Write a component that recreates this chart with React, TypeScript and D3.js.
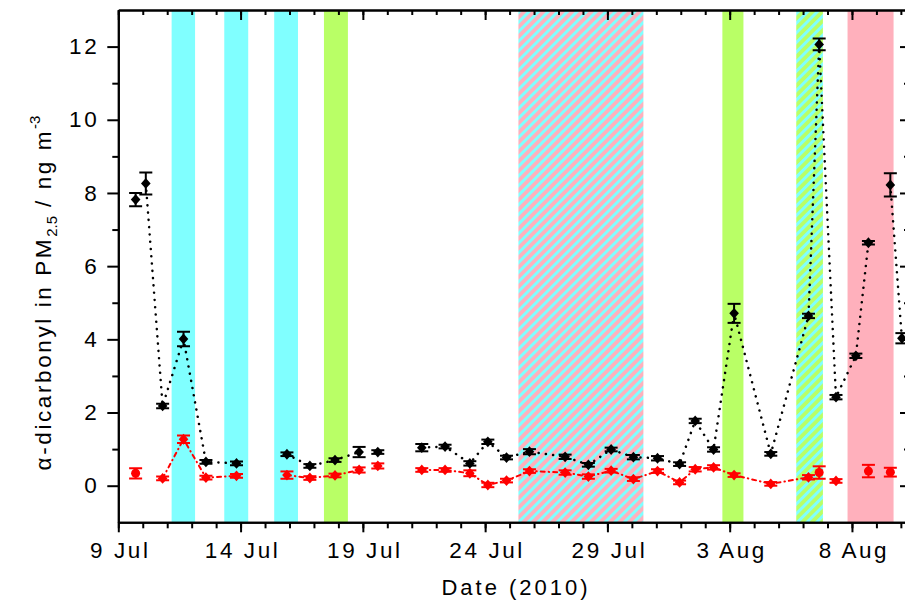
import React, { useEffect, useRef } from "react";
import * as d3 from "d3";

// ---- axes / scale data ----
const X_DOMAIN = ["2010-07-09 00:00", "2010-08-10 07:00"];
const Y_DOMAIN = [-1, 13];
const MAJOR_TICK_DATES = ["2010-07-09", "2010-07-14", "2010-07-19", "2010-07-24", "2010-07-29", "2010-08-03", "2010-08-08"];
const Y_MAJOR_TICKS = [0, 2, 4, 6, 8, 10, 12];
const Y_MINOR_TICKS = [1, 3, 5, 7, 9, 11];

// ---- shaded event bands [start, end] ----
const CYAN_BANDS = [
  ["2010-07-11 04:20", "2010-07-12 03:20"],
  ["2010-07-13 08:00", "2010-07-14 07:30"],
  ["2010-07-15 09:00", "2010-07-16 08:20"],
];
const GREEN_BANDS = [
  ["2010-07-17 09:50", "2010-07-18 09:20"],
  ["2010-08-02 16:50", "2010-08-03 13:30"],
];
const PINK_BANDS = [["2010-08-07 19:40", "2010-08-09 16:50"]];
const PINK_CYAN_HATCH_BANDS = [["2010-07-25 08:40", "2010-07-30 11:20"]];
const GREEN_CYAN_HATCH_BANDS = [["2010-08-05 17:20", "2010-08-06 19:30"]];

// ---- black series ----
const BLACK_TIMES = [
  "2010-07-09 17:00", "2010-07-10 03:00", "2010-07-10 19:30", "2010-07-11 16:00", "2010-07-12 14:00",
  "2010-07-13 20:00", "2010-07-15 21:30", "2010-07-16 20:00", "2010-07-17 20:40", "2010-07-18 20:20",
  "2010-07-19 14:40", "2010-07-21 09:50", "2010-07-22 08:40", "2010-07-23 09:00", "2010-07-24 02:40",
  "2010-07-24 21:00", "2010-07-25 19:30", "2010-07-27 06:30", "2010-07-28 05:20", "2010-07-29 03:40",
  "2010-07-30 01:30", "2010-07-31 01:10", "2010-07-31 22:50", "2010-08-01 14:10", "2010-08-02 08:10",
  "2010-08-03 04:20", "2010-08-04 16:20", "2010-08-06 05:20", "2010-08-06 15:50", "2010-08-07 08:20",
  "2010-08-08 03:50", "2010-08-08 16:10", "2010-08-09 13:40", "2010-08-10 01:00",
];
const BLACK_VALUES = [
  7.82, 8.26, 2.18, 4.01, 0.65,
  0.61, 0.86, 0.54, 0.70, 0.92,
  0.92, 1.04, 1.07, 0.61, 1.20,
  0.77, 0.93, 0.79, 0.57, 0.99,
  0.78, 0.75, 0.59, 1.77, 0.99,
  4.71, 0.87, 4.64, 12.06, 2.42,
  3.55, 6.64, 8.22, 4.03,
];
const BLACK_ERRORS = [
  0.18, 0.30, 0.06, 0.20, 0.05,
  0.05, 0.05, 0.05, 0.05, 0.14,
  0.05, 0.10, 0.05, 0.06, 0.06,
  0.05, 0.07, 0.06, 0.05, 0.05,
  0.06, 0.06, 0.05, 0.06, 0.06,
  0.26, 0.05, 0.06, 0.16, 0.06,
  0.06, 0.05, 0.32, 0.14,
];
const BLACK_GROUPS = [
  0, 1, 1, 1, 1,
  1, 2, 2, 2, 2,
  3, 4, 4, 4, 4,
  4, 4, 4, 4, 4,
  4, 4, 4, 4, 4,
  4, 4, 4, 4, 4,
  4, 4, 5, 5,
];

// ---- red series ----
const RED_TIMES = [
  "2010-07-09 17:00", "2010-07-10 19:30", "2010-07-11 16:00", "2010-07-12 14:00", "2010-07-13 20:00",
  "2010-07-15 21:30", "2010-07-16 20:00", "2010-07-17 20:40", "2010-07-18 20:20", "2010-07-19 14:40",
  "2010-07-21 09:50", "2010-07-22 08:40", "2010-07-23 09:00", "2010-07-24 02:40", "2010-07-24 21:00",
  "2010-07-25 19:30", "2010-07-27 06:30", "2010-07-28 05:20", "2010-07-29 03:40", "2010-07-30 01:30",
  "2010-07-31 01:10", "2010-07-31 22:50", "2010-08-01 14:10", "2010-08-02 08:10", "2010-08-03 04:20",
  "2010-08-04 16:20", "2010-08-06 05:20", "2010-08-06 15:50", "2010-08-07 08:20", "2010-08-08 16:10",
  "2010-08-09 13:40",
];
const RED_VALUES = [
  0.34, 0.20, 1.27, 0.22, 0.27,
  0.29, 0.21, 0.28, 0.43, 0.54,
  0.43, 0.43, 0.34, 0.02, 0.14,
  0.40, 0.36, 0.25, 0.41, 0.18,
  0.40, 0.09, 0.45, 0.50, 0.29,
  0.05, 0.23, 0.36, 0.13, 0.40,
  0.37,
];
const RED_ERRORS = [
  0.14, 0.05, 0.10, 0.05, 0.05,
  0.10, 0.05, 0.05, 0.07, 0.07,
  0.05, 0.05, 0.08, 0.06, 0.05,
  0.05, 0.06, 0.06, 0.05, 0.05,
  0.05, 0.05, 0.06, 0.06, 0.05,
  0.05, 0.06, 0.17, 0.05, 0.17,
  0.12,
];
const RED_GROUPS = [
  0, 1, 1, 1, 1,
  2, 2, 2, 2, 3,
  4, 4, 4, 4, 4,
  4, 4, 4, 4, 4,
  4, 4, 4, 4, 4,
  4, 4, 5, 6, 7,
  8,
];
const RED_SHAPES = [
  "circle", "diamond", "diamond", "diamond", "diamond",
  "diamond", "diamond", "diamond", "diamond", "diamond",
  "diamond", "diamond", "diamond", "diamond", "diamond",
  "diamond", "diamond", "diamond", "diamond", "diamond",
  "diamond", "diamond", "diamond", "diamond", "diamond",
  "diamond", "diamond", "circle", "diamond", "circle",
  "circle",
];

const CYAN = "#80FFFF";
const GREEN = "#B9FF66";
const PINK = "#FFB0BC";
const FONT = "'Liberation Sans', Arial, sans-serif";

export default function App() {
  const ref = useRef<SVGSVGElement>(null);

  useEffect(() => {
    const left = 118.3, right = 908, top = 10, bottom = 522.3;
    const parseT = d3.timeParse("%Y-%m-%d %H:%M");
    const parseD = d3.timeParse("%Y-%m-%d");

    const svg = d3.select(ref.current);
    svg.selectAll("*").remove();

    const x = d3.scaleTime().domain(X_DOMAIN.map((s) => parseT(s) as Date)).range([left, right]);
    const y = d3.scaleLinear().domain(Y_DOMAIN).range([bottom, top]);

    const defs = svg.append("defs");
    const mkPattern = (id: string, bg: string, stripe: string) => {
      const p = defs
        .append("pattern")
        .attr("id", id)
        .attr("patternUnits", "userSpaceOnUse")
        .attr("width", 6.8)
        .attr("height", 6.8)
        .attr("patternTransform", "rotate(45)");
      p.append("rect").attr("width", 6.8).attr("height", 6.8).attr("fill", bg);
      p.append("rect").attr("width", 3).attr("height", 6.8).attr("fill", stripe);
    };
    mkPattern("hatchPinkCyan", PINK, CYAN);
    mkPattern("hatchGreenCyan", GREEN, CYAN);
    defs
      .append("clipPath")
      .attr("id", "plotClip")
      .append("rect")
      .attr("x", left)
      .attr("y", top)
      .attr("width", right - left)
      .attr("height", bottom - top);

    const plot = svg.append("g").attr("clip-path", "url(#plotClip)");

    const drawBands = (bands: string[][], fill: string) => {
      plot
        .append("g")
        .selectAll("rect")
        .data(bands)
        .join("rect")
        .attr("x", (d) => x(parseT(d[0]) as Date))
        .attr("width", (d) => x(parseT(d[1]) as Date) - x(parseT(d[0]) as Date))
        .attr("y", top)
        .attr("height", bottom - top)
        .attr("fill", fill);
    };
    drawBands(CYAN_BANDS, CYAN);
    drawBands(GREEN_BANDS, GREEN);
    drawBands(PINK_BANDS, PINK);
    drawBands(PINK_CYAN_HATCH_BANDS, "url(#hatchPinkCyan)");
    drawBands(GREEN_CYAN_HATCH_BANDS, "url(#hatchGreenCyan)");

    type Pt = { t: Date; v: number; e: number; g: number; s: string };
    const black: Pt[] = BLACK_TIMES.map((t, i) => ({
      t: parseT(t) as Date,
      v: BLACK_VALUES[i],
      e: BLACK_ERRORS[i],
      g: BLACK_GROUPS[i],
      s: "diamond",
    }));
    const red: Pt[] = RED_TIMES.map((t, i) => ({
      t: parseT(t) as Date,
      v: RED_VALUES[i],
      e: RED_ERRORS[i],
      g: RED_GROUPS[i],
      s: RED_SHAPES[i],
    }));

    const line = d3
      .line<Pt>()
      .x((d) => x(d.t))
      .y((d) => y(d.v));

    const drawSeries = (data: Pt[], color: string, dash: string, lw: number) => {
      const groups = d3.groups(data, (d) => d.g);
      const g = plot.append("g");
      groups.forEach(([, pts]) => {
        if (pts.length < 2) return;
        g.append("path")
          .attr("d", line(pts))
          .attr("fill", "none")
          .attr("stroke", color)
          .attr("stroke-width", lw)
          .attr("stroke-dasharray", dash)
          .attr("stroke-linecap", "round");
      });
      const eb = g.append("g").attr("stroke", color).attr("stroke-width", 2).attr("fill", "none");
      data.forEach((d) => {
        const cx = x(d.t);
        const y1 = y(d.v + d.e), y0 = y(d.v - d.e);
        eb.append("line").attr("x1", cx).attr("x2", cx).attr("y1", y1).attr("y2", y0);
        eb.append("line").attr("x1", cx - 6.5).attr("x2", cx + 6.5).attr("y1", y1).attr("y2", y1);
        eb.append("line").attr("x1", cx - 6.5).attr("x2", cx + 6.5).attr("y1", y0).attr("y2", y0);
      });
      const mk = g.append("g").attr("fill", color);
      data.forEach((d) => {
        const cx = x(d.t), cy = y(d.v);
        if (d.s === "circle") {
          mk.append("circle").attr("cx", cx).attr("cy", cy).attr("r", 4.5);
        } else {
          mk.append("path")
            .attr("transform", `translate(${cx},${cy})`)
            .attr("d", "M0,-5.4L4.8,0L0,5.4L-4.8,0Z");
        }
      });
    };
    drawSeries(red, "#FF0000", "4,4,0.5,4", 2);
    drawSeries(black, "#000000", "0.1,7.2", 2.5);

    // ---- axes ----
    const majorDates = MAJOR_TICK_DATES.map((s) => parseD(s) as Date);
    const dayTicks = d3.timeDay.range(x.domain()[0], x.domain()[1]);
    const styleAxis = (g: any) => {
      g.selectAll("path,line").attr("stroke", "#000").attr("stroke-width", 2);
      g.selectAll("text")
        .attr("fill", "#000")
        .style("font-family", FONT)
        .style("font-size", "22.5px")
        .style("letter-spacing", "2.6px");
    };

    // bottom
    svg.append("g")
      .attr("transform", `translate(0,${bottom})`)
      .call(d3.axisBottom(x).tickValues(dayTicks).tickSize(6).tickSizeOuter(0).tickFormat(() => ""))
      .call(styleAxis);
    svg.append("g")
      .attr("transform", `translate(0,${bottom})`)
      .call(d3.axisBottom(x).tickValues(majorDates).tickSize(10).tickSizeOuter(0).tickPadding(10).tickFormat(d3.timeFormat("%-d %b") as any))
      .call(styleAxis)
      .call((g: any) => g.selectAll("text").attr("dx", 1.5));
    // top
    svg.append("g")
      .attr("transform", `translate(0,${top})`)
      .call(d3.axisTop(x).tickValues(dayTicks).tickSize(-5).tickSizeOuter(0).tickFormat(() => ""))
      .call(styleAxis);
    svg.append("g")
      .attr("transform", `translate(0,${top})`)
      .call(d3.axisTop(x).tickValues(majorDates).tickSize(-10).tickSizeOuter(0).tickFormat(() => ""))
      .call(styleAxis);
    // left
    svg.append("g")
      .attr("transform", `translate(${left},0)`)
      .call(d3.axisLeft(y).tickValues(Y_MINOR_TICKS).tickSize(6).tickSizeOuter(0).tickFormat(() => ""))
      .call(styleAxis);
    svg.append("g")
      .attr("transform", `translate(${left},0)`)
      .call(d3.axisLeft(y).tickValues(Y_MAJOR_TICKS).tickSize(11).tickSizeOuter(0).tickPadding(8).tickFormat(d3.format("d")))
      .call(styleAxis);
    // right
    svg.append("g")
      .attr("transform", `translate(${right},0)`)
      .call(d3.axisRight(y).tickValues(Y_MINOR_TICKS).tickSize(-4).tickSizeOuter(0).tickFormat(() => ""))
      .call(styleAxis);
    svg.append("g")
      .attr("transform", `translate(${right},0)`)
      .call(d3.axisRight(y).tickValues(Y_MAJOR_TICKS).tickSize(-8).tickSizeOuter(0).tickFormat(() => ""))
      .call(styleAxis);

    // ---- axis titles ----
    svg.append("text")
      .attr("x", 516)
      .attr("y", 595)
      .attr("text-anchor", "middle")
      .style("font-family", FONT)
      .style("font-size", "22px")
      .style("letter-spacing", "3px")
      .text("Date (2010)");

    const yl = svg.append("text")
      .attr("transform", `translate(51,293) rotate(-90)`)
      .attr("text-anchor", "middle")
      .style("font-family", FONT)
      .style("font-size", "22.5px")
      .style("letter-spacing", "2.6px");
    yl.append("tspan").text("α-dicarbonyl in PM");
    yl.append("tspan").attr("dy", 6).style("font-size", "15px").style("letter-spacing", "0px").text("2.5");
    yl.append("tspan").attr("dy", -6).text(" / ng m");
    yl.append("tspan").attr("dy", -11).style("font-size", "15px").style("letter-spacing", "0px").text("-3");
  }, []);

  return (
    <svg
      ref={ref}
      width={905}
      height={600}
      style={{ position: "absolute", left: 0, top: 0, background: "#fff" }}
    />
  );
}
